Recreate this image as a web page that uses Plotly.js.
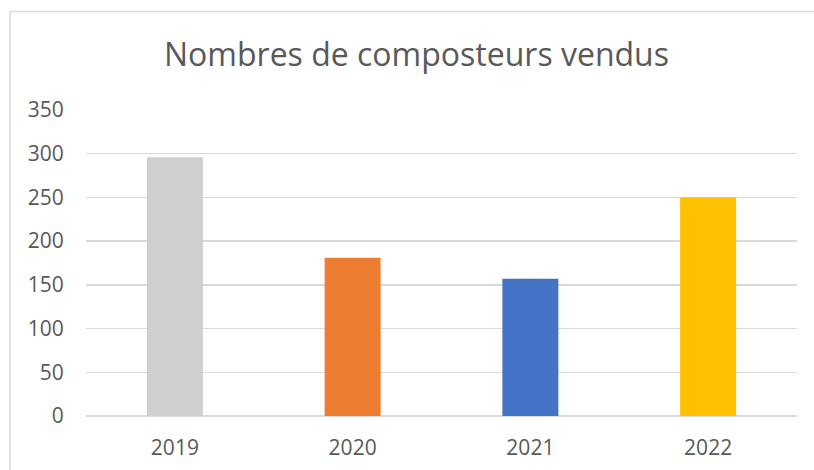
<!DOCTYPE html>
<html>
<head>
<meta charset="utf-8">
<script src="https://cdn.plot.ly/plotly-3.0.1.min.js"></script>
<style>html,body{margin:0;padding:0;background:#fff;}#chart{width:814px;height:470px;}</style>
</head>
<body>
<div id="chart"></div>
<script>
const years = ["2019", "2020", "2021", "2022"];
const sold = [296, 181, 157, 250];
const barColors = ["#D0CECE", "#ED7D31", "#4472C4", "#FFC000"];
const yTicks = [0, 50, 100, 150, 200, 250, 300, 350];
const chartTitle = "Nombres de composteurs vendus";

const W = 814, H = 470;
const m = {l: 86, r: 17, t: 110, b: 54};
const pw = W - m.l - m.r, ph = H - m.t - m.b;
const px = x => (x - m.l) / pw;
const py = y => (H - m.b - y) / ph;
const borderColor = "#D9D9D9";

const trace = {
  type: "bar",
  x: years,
  y: sold,
  marker: {color: barColors, line: {width: 0}},
  hoverinfo: "x+y"
};

const layout = {
  width: W, height: H,
  margin: m,
  paper_bgcolor: "#fff",
  plot_bgcolor: "#fff",
  showlegend: false,
  bargap: 0.685,
  font: {family: "Open Sans, sans-serif", color: "#595959"},
  title: {
    text: chartTitle,
    font: {family: "Open Sans, sans-serif", size: 32, color: "#595959"},
    x: 416.5 / W, xanchor: "center", xref: "container",
    y: 1 - 55 / H, yanchor: "middle", yref: "container"
  },
  xaxis: {
    type: "category",
    showgrid: false,
    zeroline: false,
    showline: false,
    ticks: "outside", ticklen: 13, tickcolor: "rgba(0,0,0,0)",
    tickfont: {size: 21, color: "#595959"}
  },
  yaxis: {
    range: [0, 350],
    tickvals: yTicks,
    ticktext: yTicks.map(String),
    showgrid: true, gridcolor: borderColor, gridwidth: 1.5,
    zeroline: true, zerolinecolor: borderColor, zerolinewidth: 1.5,
    showline: false,
    ticks: "outside", ticklen: 17, tickcolor: "rgba(0,0,0,0)",
    tickfont: {size: 21, color: "#595959"}
  },
  shapes: [
    {type: "line", xref: "paper", yref: "paper", x0: px(10), x1: px(10), y0: py(11.5), y1: py(H + 2), line: {color: borderColor, width: 1.5}},
    {type: "line", xref: "paper", yref: "paper", x0: px(10), x1: px(W + 2), y0: py(11.5), y1: py(11.5), line: {color: borderColor, width: 1.5}}
  ]
};

Plotly.newPlot("chart", [trace], layout, {displayModeBar: false, staticPlot: true});
</script>
</body>
</html>
